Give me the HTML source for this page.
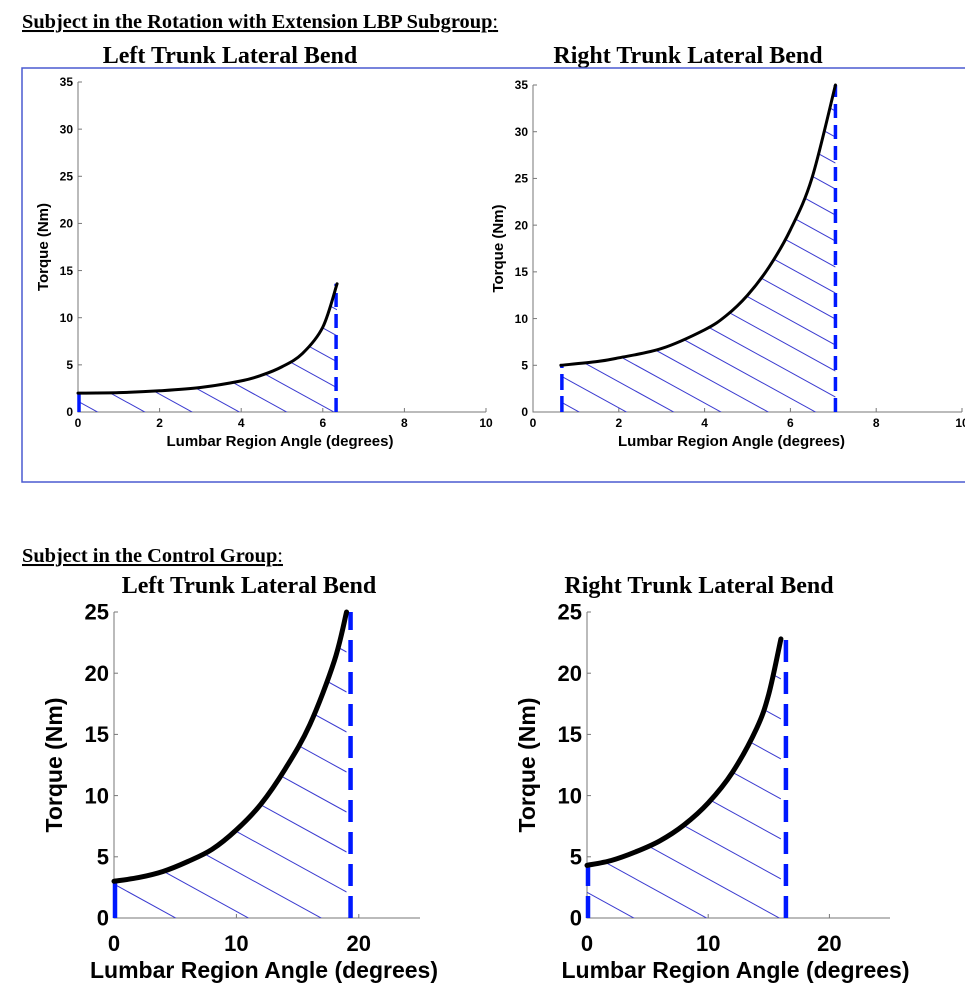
<!DOCTYPE html>
<html><head><meta charset="utf-8"><style>
html,body{margin:0;padding:0;background:#fff;overflow:hidden;width:965px;height:1008px;}
svg{display:block;overflow:hidden;}
.hd{font-family:"Liberation Serif",serif;font-weight:bold;font-size:20.4px;}
.tt{font-family:"Liberation Serif",serif;font-weight:bold;font-size:24px;}
.ax{font-family:"Liberation Sans",sans-serif;font-weight:bold;}
</style></head><body>
<svg id="s" width="965" height="1008" viewBox="0 0 965 1008" xmlns="http://www.w3.org/2000/svg">
<text class="hd" x="22" y="28" text-decoration="underline">Subject in the Rotation with Extension LBP Subgroup<tspan text-decoration="none" font-weight="normal">:</tspan></text>
<text class="tt" x="230" y="63" text-anchor="middle">Left Trunk Lateral Bend</text>
<text class="tt" x="688" y="63" text-anchor="middle">Right Trunk Lateral Bend</text>
<rect x="22" y="68" width="950" height="414" fill="none" stroke="#4a5ad0" stroke-width="1.5"/>
<text class="hd" x="22" y="562" text-decoration="underline">Subject in the Control Group<tspan text-decoration="none" font-weight="normal">:</tspan></text>
<text class="tt" x="249" y="593" text-anchor="middle">Left Trunk Lateral Bend</text>
<text class="tt" x="699" y="593" text-anchor="middle">Right Trunk Lateral Bend</text>
</svg>
<script>
const tlX=[0,1,2,3,4,4.5,5,5.5,6,6.35];
const tlY=[2,2.05,2.25,2.6,3.3,3.9,4.8,6.2,9,13.6];
const trX=[0.65,1.5,2,3,4,4.5,5,5.5,6,6.5,7.05];
const trY=[5,5.4,5.8,6.8,8.8,10.3,12.5,15.5,19.5,25,35];
const blX=[0,2,4,6,8,10,12,14,16,18,19];
const blY=[3,3.3,3.8,4.6,5.6,7.2,9.3,12.2,15.8,21,25];
const brX=[0,2,4,6,8,10,12,14,15,16];
const brY=[4.3,4.7,5.4,6.3,7.6,9.4,11.9,15.5,18.3,22.8];
const topXTicks=[0,2,4,6,8,10];
const topYTicks=[0,5,10,15,20,25,30,35];
const botXTicks=[0,10,20];
const botYTicks=[0,5,10,15,20,25];
const NS="http://www.w3.org/2000/svg";
const svg=document.getElementById('s');
let cid=0;
function mk(tag,attrs,parent){const e=document.createElementNS(NS,tag);for(const k in attrs)e.setAttribute(k,attrs[k]);(parent||svg).appendChild(e);return e;}
function chart(o){
  const g=mk('g',{});
  
  
  const sx=v=>o.x0+(v-o.xmin)*(o.x1-o.x0)/(o.xmax-o.xmin);
  const sy=v=>o.y0+(v-o.ymin)*(o.y1-o.y0)/(o.ymax-o.ymin);
  const ax=mk('path',{d:`M${o.x0},${o.y1}V${o.y0}H${o.x1}`,fill:'none',stroke:'#777','stroke-width':1},g);
  
  
  o.xt.forEach(t=>{
    mk('line',{x1:sx(t),x2:sx(t),y1:o.y0,y2:o.y0-4,stroke:'#777'},g);
    const tx=mk('text',{x:sx(t),y:o.y0+o.xtY,'text-anchor':'middle','font-size':o.fs,class:'ax'},g);tx.textContent=t;
    
    
  });
  o.yt.forEach(t=>{
    mk('line',{x1:o.x0,x2:o.x0+4,y1:sy(t),y2:sy(t),stroke:'#777'},g);
    const tx=mk('text',{x:o.x0-5,y:sy(t)+o.fs*0.35,'text-anchor':'end','font-size':o.fs,class:'ax'},g);tx.textContent=t;
    
    
  });
  const xl=mk('text',{x:(o.x0+o.x1)/2+o.xlOff,y:o.y0+o.xlY,'text-anchor':'middle','font-size':o.lfs,class:'ax'},g);xl.textContent='Lumbar Region Angle (degrees)';
  
  
  const yc=(o.y0+o.y1)/2, yx=o.x0-o.ylOff;
  const yl=mk('text',{x:yx,y:yc,'text-anchor':'middle','font-size':o.lfs,class:'ax',transform:`rotate(-90 ${yx} ${yc})`},g);yl.textContent='Torque (Nm)';
  
  
  const X=o.X,Y=o.Y,n=X.length;
  const P=X.map((v,i)=>[sx(v),sy(Y[i])]);
  let d=`M${P[0][0]},${P[0][1]}`;
  for(let i=0;i<n-1;i++){
    const p0=P[Math.max(0,i-1)],p1=P[i],p2=P[i+1],p3=P[Math.min(n-1,i+2)];
    d+=`C${p1[0]+(p2[0]-p0[0])/6},${p1[1]+(p2[1]-p0[1])/6} ${p2[0]-(p3[0]-p1[0])/6},${p2[1]-(p3[1]-p1[1])/6} ${p2[0]},${p2[1]}`;
  }
  const xe=sx(X[n-1]);
  const area=`M${sx(X[0])},${sy(0)}L${d.slice(1)}L${xe},${sy(0)}Z`;
  const id='c'+(cid++);
  const cp=mk('clipPath',{id:id},g);mk('path',{d:area},cp);
  const hg=mk('g',{'clip-path':`url(#${id})`},g);
  
  
  const slope=0.55;
  const xa=sx(X[0]), yb=sy(0), ytop=sy(Y[n-1]);
  for(let c=yb-slope*(xe-xa)-(yb-ytop)-o.hs;c<yb+o.hs;c+=o.hs){
    mk('line',{x1:xa,y1:c,x2:xe,y2:c+(xe-xa)*slope,stroke:'#3b3bd0','stroke-width':1},hg);
  }
  const sv=mk('line',{x1:sx(X[0])+1,x2:sx(X[0])+1,y1:sy(0),y2:sy(Y[0]),stroke:'#0018ff','stroke-width':o.bw,'stroke-dasharray':o.startDash},g);
  
  
  const ev=mk('line',{x1:xe+o.eOff,x2:xe+o.eOff,y1:sy(0),y2:sy(Y[n-1]),stroke:'#0018ff','stroke-width':o.bw,'stroke-dasharray':o.dash},g);
  
  
  const cv=mk('path',{d:d,fill:'none',stroke:'#000','stroke-width':o.cw,'stroke-linecap':'round'},g);
  
  
}
chart({name:'chart-lbp-left',X:tlX,Y:tlY,xmin:0,xmax:10,ymin:0,ymax:35,x0:78,x1:486,y0:412,y1:82,xt:topXTicks,yt:topYTicks,fs:12,lfs:15,xtY:15,xlY:34,xlOff:-2,ylOff:30,hs:26,bw:3.5,cw:3,dash:'14,7',startDash:'none',eOff:-1});
chart({name:'chart-lbp-right',X:trX,Y:trY,xmin:0,xmax:10,ymin:0,ymax:35,x0:533,x1:962,y0:412,y1:85,xt:topXTicks,yt:topYTicks,fs:12,lfs:15,xtY:15,xlY:34,xlOff:-16,ylOff:30,hs:26,bw:3.5,cw:3,dash:'14,7',startDash:'16,6',eOff:0});
chart({name:'chart-control-left',X:blX,Y:blY,xmin:0,xmax:25,ymin:0,ymax:25,x0:114,x1:420,y0:918,y1:612,xt:botXTicks,yt:botYTicks,fs:22,lfs:23,xtY:33,xlY:60,xlOff:-3,ylOff:52,hs:40,bw:4.5,cw:5,dash:'22,10',startDash:'none',eOff:4});
chart({name:'chart-control-right',X:brX,Y:brY,xmin:0,xmax:25,ymin:0,ymax:25,x0:587,x1:890,y0:918,y1:612,xt:botXTicks,yt:botYTicks,fs:22,lfs:23,xtY:33,xlY:60,xlOff:-3,ylOff:52,hs:40,bw:4.5,cw:5,dash:'22,10',startDash:'22,10',eOff:5});
</script>
</body></html>
